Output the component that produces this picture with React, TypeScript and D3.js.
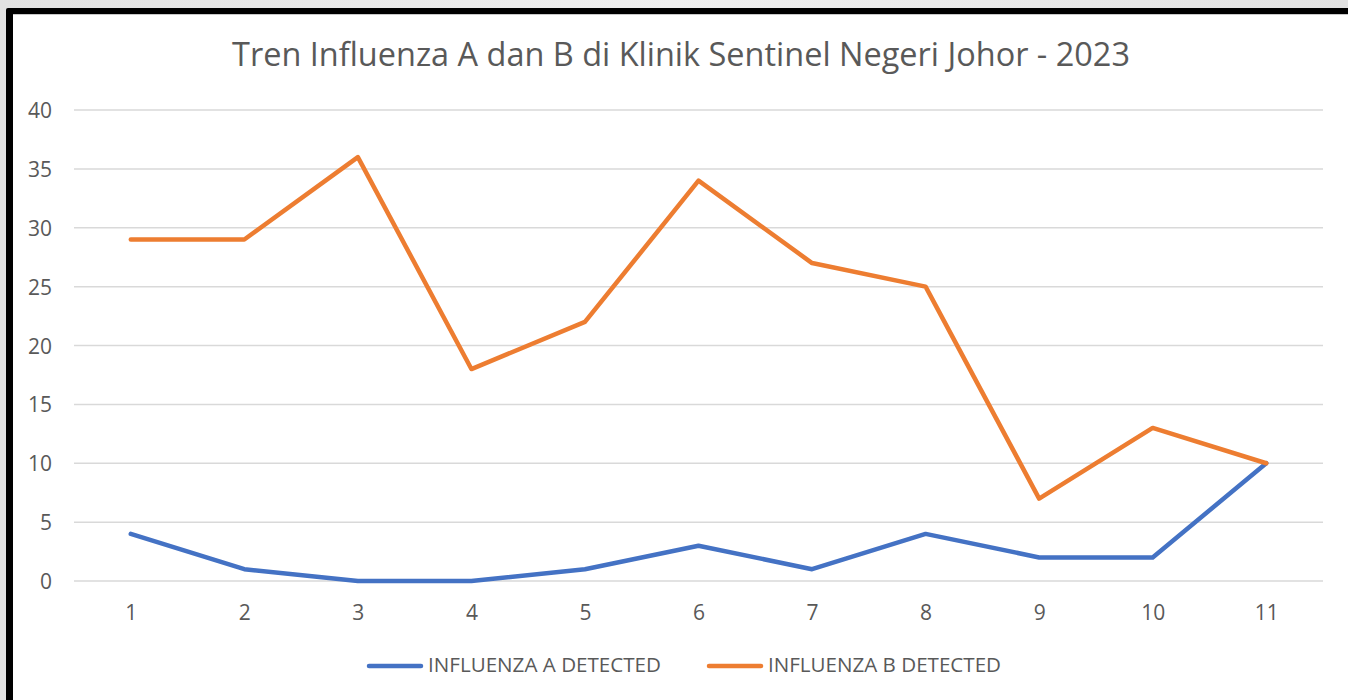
import { useEffect, useRef } from "react";
import * as d3 from "d3";

// data
const weeks = ["1", "2", "3", "4", "5", "6", "7", "8", "9", "10", "11"];
const influenzaA = [4, 1, 0, 0, 1, 3, 1, 4, 2, 2, 10];
const influenzaB = [29, 29, 36, 18, 22, 34, 27, 25, 7, 13, 10];
const yTicks = [0, 5, 10, 15, 20, 25, 30, 35, 40];
const seriesNames = ["INFLUENZA A DETECTED", "INFLUENZA B DETECTED"];
const seriesColors = ["#4472c4", "#ed7d31"];

const W = 1348;
const H = 700;
const FONT = "'Open Sans', Lato, sans-serif";

export default function App() {
  const svgRef = useRef<SVGSVGElement>(null);

  useEffect(() => {
    const svg = d3.select(svgRef.current);
    svg.selectAll("*").remove();

    // page background + black frame
    const grad = svg.append("defs").append("linearGradient").attr("id", "bg");
    grad.append("stop").attr("offset", "0%").attr("stop-color", "#e2e2e2");
    grad.append("stop").attr("offset", "50%").attr("stop-color", "#efefef");
    grad.append("stop").attr("offset", "100%").attr("stop-color", "#e2e2e2");
    svg.append("rect").attr("width", W).attr("height", H).attr("fill", "url(#bg)");
    svg.append("rect").attr("x", 6).attr("y", 8).attr("width", W).attr("height", H)
      .attr("fill", "#000").attr("rx", 2);
    svg.append("rect").attr("x", 13).attr("y", 14).attr("width", W).attr("height", H)
      .attr("fill", "#c8c8c8");
    svg.append("rect").attr("x", 13).attr("y", 15).attr("width", W).attr("height", H)
      .attr("fill", "#fff");

    const x = d3.scalePoint<string>().domain(weeks).range([74, 1323]).padding(0.5);
    const y = d3.scaleLinear().domain([0, 40]).range([581, 110]);

    // title
    svg.append("text")
      .attr("x", 232).attr("y", 66)
      .attr("textLength", 898).attr("lengthAdjust", "spacingAndGlyphs")
      .attr("font-family", FONT).attr("font-size", 32)
      .attr("fill", "#595959")
      .text("Tren Influenza A dan B di Klinik Sentinel Negeri Johor - 2023");

    // gridlines
    svg.append("g").selectAll("line").data(yTicks).join("line")
      .attr("x1", 74).attr("x2", 1323)
      .attr("y1", (d) => y(d)).attr("y2", (d) => y(d))
      .attr("stroke", "#d9d9d9").attr("stroke-width", 1.5);

    // y axis labels
    const yAxis = d3.axisLeft(y).tickValues(yTicks).tickSize(0).tickPadding(0);
    const gy = svg.append("g").attr("transform", "translate(52,0)").call(yAxis);
    gy.select(".domain").remove();
    gy.selectAll("text").attr("font-family", FONT).attr("font-size", 21)
      .attr("fill", "#595959").attr("text-anchor", "end").attr("dy", "0.36em");

    // x axis labels
    const xAxis = d3.axisBottom(x).tickSize(0).tickPadding(0);
    const gx = svg.append("g").attr("transform", "translate(0,620)").call(xAxis);
    gx.select(".domain").remove();
    gx.selectAll("text").attr("font-family", FONT).attr("font-size", 21)
      .attr("fill", "#595959").attr("y", 0).attr("dy", 0);

    // lines
    const line = d3.line<number>()
      .x((_, i) => x(weeks[i]) as number)
      .y((d) => y(d));
    [influenzaA, influenzaB].forEach((vals, i) => {
      svg.append("path").datum(vals)
        .attr("d", line)
        .attr("fill", "none")
        .attr("stroke", seriesColors[i])
        .attr("stroke-width", 4.5)
        .attr("stroke-linejoin", "round")
        .attr("stroke-linecap", "round");
    });

    // legend
    const legendX = [369, 709];
    seriesNames.forEach((name, i) => {
      const g = svg.append("g").attr("transform", `translate(${legendX[i]},666)`);
      g.append("line").attr("x1", 0).attr("x2", 52)
        .attr("stroke", seriesColors[i]).attr("stroke-width", 4.5)
        .attr("stroke-linecap", "round");
      g.append("text").attr("x", 59).attr("y", 6)
        .attr("textLength", 233).attr("lengthAdjust", "spacingAndGlyphs")
        .attr("font-family", FONT).attr("font-size", 19.5)
        .attr("fill", "#595959").text(name);
    });
  }, []);

  return (
    <svg
      ref={svgRef}
      width={W}
      height={H}
      style={{ position: "absolute", left: 0, top: 0, display: "block" }}
    />
  );
}
